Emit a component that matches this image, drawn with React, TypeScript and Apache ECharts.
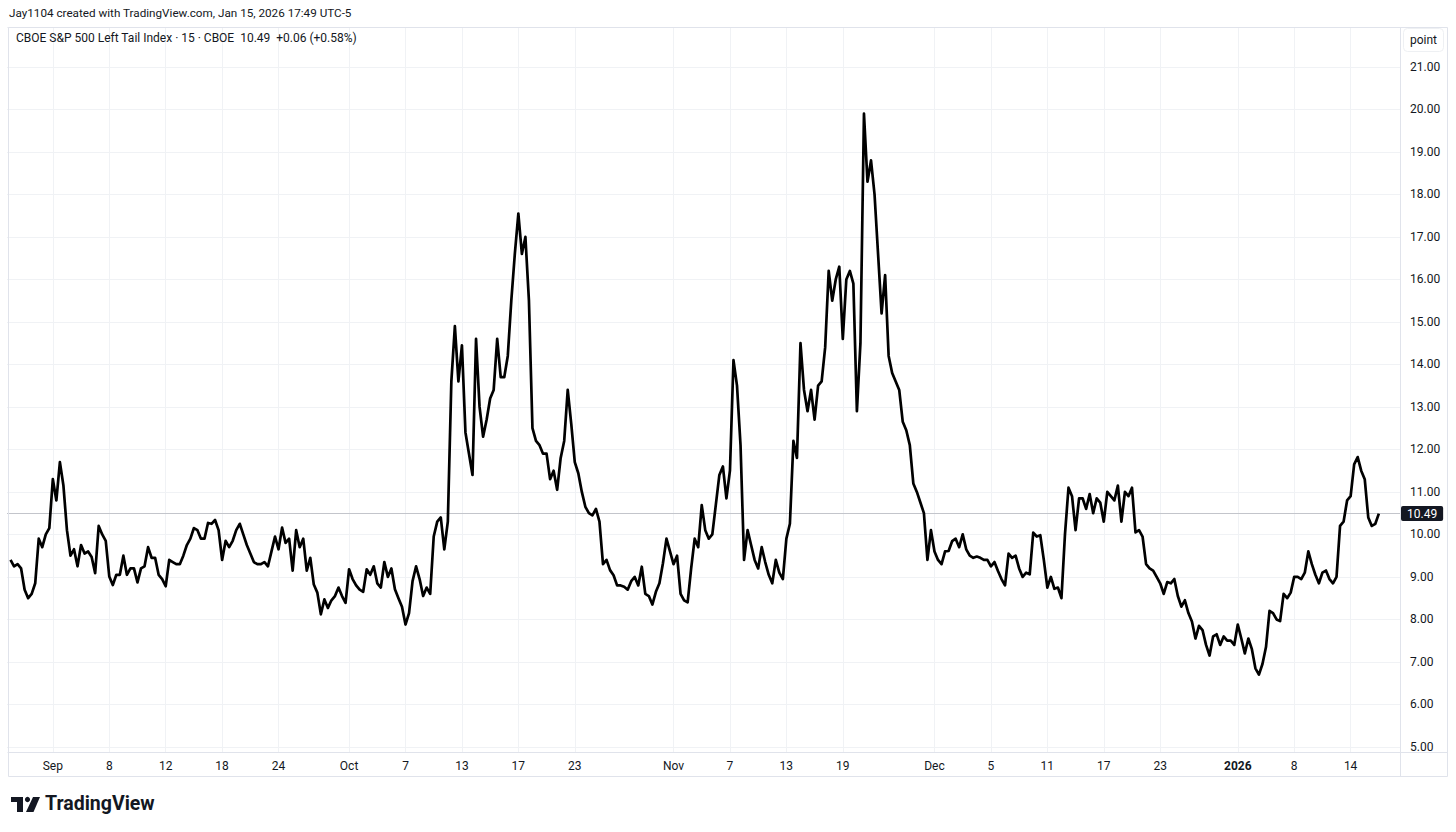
import React, { useEffect, useRef } from 'react';
import * as echarts from 'echarts';

// ---- data (15-min CBOE S&P 500 Left Tail Index, sampled ~4 points per session) ----
const augDays = ['Aug 27', 'Aug 28', 'Aug 29'];
const augValues = [
  [9.40, 9.25, 9.30, 9.20], [8.70, 8.50, 8.60, 8.85], [9.90, 9.70, 10.00, 10.15],
];
const sepDays = ['Sep 2', 'Sep 3', 'Sep 4', 'Sep 5', 'Sep 8', 'Sep 9', 'Sep 10', 'Sep 11', 'Sep 12', 'Sep 15', 'Sep 16', 'Sep 17', 'Sep 18', 'Sep 19', 'Sep 22', 'Sep 23', 'Sep 24', 'Sep 25', 'Sep 26', 'Sep 29', 'Sep 30'];
const sepValues = [
  [11.30, 10.80, 11.70, 11.15], [10.10, 9.50, 9.65, 9.25], [9.75, 9.55, 9.60, 9.47], [9.09, 10.20, 10.00, 9.85],
  [9.01, 8.81, 9.05, 9.05], [9.50, 9.05, 9.20, 9.20], [8.87, 9.20, 9.25, 9.70], [9.45, 9.45, 9.05, 8.95],
  [8.78, 9.40, 9.35, 9.30], [9.30, 9.50, 9.75, 9.90], [10.15, 10.10, 9.90, 9.90], [10.27, 10.25, 10.34, 10.10],
  [9.40, 9.85, 9.70, 9.85], [10.10, 10.25, 10.00, 9.75], [9.55, 9.35, 9.30, 9.30], [9.35, 9.25, 9.60, 9.95],
  [9.65, 10.16, 9.80, 9.90], [9.15, 10.10, 9.70, 9.90], [9.15, 9.45, 8.82, 8.63], [8.12, 8.47, 8.27, 8.45],
  [8.55, 8.75, 8.55, 8.39],
];
const octDays = ['Oct 1', 'Oct 2', 'Oct 3', 'Oct 6', 'Oct 7', 'Oct 8', 'Oct 9', 'Oct 10', 'Oct 13', 'Oct 14', 'Oct 15', 'Oct 16', 'Oct 17', 'Oct 20', 'Oct 21', 'Oct 22', 'Oct 23', 'Oct 24', 'Oct 27', 'Oct 28', 'Oct 29', 'Oct 30', 'Oct 31'];
const octValues = [
  [9.18, 8.95, 8.80, 8.70], [8.65, 9.18, 9.05, 9.25], [8.85, 8.75, 9.35, 9.00], [9.20, 8.71, 8.50, 8.30],
  [7.88, 8.15, 8.90, 9.25], [8.95, 8.55, 8.75, 8.60], [9.95, 10.30, 10.40, 9.65], [10.30, 13.60, 14.90, 13.60],
  [14.45, 12.40, 11.90, 11.40], [14.60, 13.00, 12.30, 12.70], [13.20, 13.40, 14.60, 13.70], [13.70, 14.20, 15.50, 16.60],
  [17.55, 16.60, 17.00, 15.50], [12.50, 12.20, 12.10, 11.90], [11.90, 11.30, 11.50, 11.05], [11.80, 12.20, 13.40, 12.60],
  [11.70, 11.44, 11.00, 10.65], [10.50, 10.45, 10.60, 10.30], [9.30, 9.40, 9.16, 9.04], [8.80, 8.80, 8.77, 8.70],
  [8.90, 9.00, 8.80, 9.24], [8.60, 8.55, 8.35, 8.65], [8.85, 9.32, 9.90, 9.60],
];
const novDays = ['Nov 3', 'Nov 4', 'Nov 5', 'Nov 6', 'Nov 7', 'Nov 10', 'Nov 11', 'Nov 12', 'Nov 13', 'Nov 14', 'Nov 17', 'Nov 18', 'Nov 19', 'Nov 20', 'Nov 21', 'Nov 24', 'Nov 25', 'Nov 26', 'Nov 28'];
const novValues = [
  [9.30, 9.50, 8.60, 8.45], [8.40, 9.20, 9.90, 9.70], [10.69, 10.10, 9.90, 10.00], [10.70, 11.40, 11.60, 10.85],
  [11.50, 14.10, 13.50, 12.10], [9.40, 10.10, 9.75, 9.40], [9.20, 9.70, 9.35, 9.05], [8.85, 9.40, 9.10, 8.95],
  [9.90, 10.25, 12.20, 11.80], [14.50, 13.40, 12.90, 13.40], [12.70, 13.50, 13.60, 14.40], [16.20, 15.50, 16.00, 16.30],
  [14.60, 16.00, 16.20, 15.90], [12.90, 14.50, 19.90, 18.30], [18.80, 18.00, 16.60, 15.20], [16.10, 14.20, 13.80, 13.60],
  [13.40, 12.65, 12.45, 12.10], [11.20, 11.00, 10.75, 10.50], [9.40, 10.10],
];
const decDays = ['Dec 1', 'Dec 2', 'Dec 3', 'Dec 4', 'Dec 5', 'Dec 8', 'Dec 9', 'Dec 10', 'Dec 11', 'Dec 12', 'Dec 15', 'Dec 16', 'Dec 17', 'Dec 18', 'Dec 19', 'Dec 22', 'Dec 23', 'Dec 24', 'Dec 26', 'Dec 29', 'Dec 30', 'Dec 31'];
const decValues = [
  [9.60, 9.40, 9.30, 9.60], [9.61, 9.84, 9.90, 9.70], [10.00, 9.65, 9.50, 9.45], [9.48, 9.45, 9.40, 9.40],
  [9.25, 9.35, 9.14, 8.95], [8.80, 9.55, 9.45, 9.50], [9.20, 9.00, 9.10, 9.06], [10.04, 9.95, 9.98, 9.40],
  [8.75, 9.00, 8.72, 8.75], [8.50, 10.00, 11.10, 10.90], [10.10, 10.85, 10.85, 10.60], [10.95, 10.50, 10.85, 10.75],
  [10.30, 11.00, 10.90, 10.80], [11.15, 10.30, 11.00, 10.90], [11.10, 10.05, 10.10, 9.95], [9.30, 9.20, 9.15, 9.00],
  [8.85, 8.60, 8.88, 8.85], [8.95, 8.55], [8.30, 8.45, 8.15, 7.95], [7.55, 7.85, 7.75, 7.40],
  [7.15, 7.60, 7.65, 7.40], [7.60, 7.50, 7.50, 7.40],
];
const janDays = ['Jan 2', 'Jan 5', 'Jan 6', 'Jan 7', 'Jan 8', 'Jan 9', 'Jan 12', 'Jan 13', 'Jan 14', 'Jan 15'];
const janValues = [
  [7.88, 7.55, 7.20, 7.55], [7.30, 6.85, 6.70, 6.95], [7.35, 8.20, 8.15, 8.00], [7.96, 8.60, 8.50, 8.63],
  [9.00, 9.00, 8.95, 9.10], [9.60, 9.30, 9.05, 8.85], [9.10, 9.15, 8.95, 8.85], [9.00, 10.20, 10.30, 10.80],
  [10.90, 11.65, 11.82, 11.50], [11.30, 10.40, 10.20, 10.25, 10.49],
];

const tickDays = ['Sep 2', 'Sep 8', 'Sep 12', 'Sep 18', 'Sep 24', 'Oct 1', 'Oct 7', 'Oct 13', 'Oct 17', 'Oct 23', 'Nov 3', 'Nov 7', 'Nov 13', 'Nov 19', 'Dec 1', 'Dec 5', 'Dec 11', 'Dec 17', 'Dec 23', 'Jan 2', 'Jan 8', 'Jan 14'];
const tickLabels = ['Sep', '8', '12', '18', '24', 'Oct', '7', '13', '17', '23', 'Nov', '7', '13', '19', 'Dec', '5', '11', '17', '23', '2026', '8', '14'];
const boldTicks = ['2026'];

const titleText = 'CBOE S&P 500 Left Tail Index · 15 · CBOE  10.49  +0.06 (+0.58%)';
const headerText = 'Jay1104 created with TradingView.com, Jan 15, 2026 17:49 UTC-5';

const FONT = 'Roboto, "Noto Sans", "Liberation Sans", sans-serif';

export default function App() {
  const ref = useRef<HTMLDivElement>(null);

  useEffect(() => {
    if (!ref.current) return;
    const chart = echarts.init(ref.current, undefined, { renderer: 'svg' });

    const allDays = [...augDays, ...sepDays, ...octDays, ...novDays, ...decDays, ...janDays];
    const allValues = [...augValues, ...sepValues, ...octValues, ...novValues, ...decValues, ...janValues];

    const categories: string[] = ['pad-start'];
    const seriesData: (number | string)[] = ['-'];
    const dayStart: Record<string, number> = {};
    allDays.forEach((d, i) => {
      dayStart[d] = categories.length;
      allValues[i].forEach((v, j) => {
        categories.push(`${d} #${j + 1}`);
        seriesData.push(v);
      });
    });
    for (let k = 0; k < 6; k++) categories.push(`pad-end-${k}`);

    const labelAt: Record<number, string> = {};
    tickDays.forEach((d, i) => {
      labelAt[dayStart[d]] = tickLabels[i];
    });

    const lastDay = janValues[janValues.length - 1];
    const lastValue = lastDay[lastDay.length - 1];

    const gridColor = '#f0f2f5';
    const frameColor = '#e0e3eb';

    chart.setOption({
      animation: false,
      backgroundColor: '#ffffff',
      grid: { left: 7, right: 56, top: 27, bottom: 80, containLabel: false },
      xAxis: {
        type: 'category',
        data: categories,
        boundaryGap: false,
        axisLine: { show: false },
        axisTick: { show: false },
        axisLabel: {
          interval: (index: number) => labelAt[index] !== undefined,
          formatter: (_v: string, index: number) => {
            const t = labelAt[index] ?? '';
            return boldTicks.includes(t) ? `{b|${t}}` : t;
          },
          color: '#131722',
          fontSize: 12,
          fontFamily: FONT,
          margin: 8,
          rich: { b: { fontWeight: 'bold', fontSize: 12, fontFamily: FONT, color: '#131722' } },
        },
        splitLine: {
          show: true,
          interval: (index: number) => labelAt[index] !== undefined,
          lineStyle: { color: gridColor, width: 1 },
        },
      },
      yAxis: {
        type: 'value',
        position: 'right',
        min: 4.88,
        max: 21.94,
        splitNumber: 17,
        minInterval: 1,
        maxInterval: 1,
        axisLine: { show: false },
        axisTick: { show: false },
        axisLabel: {
          formatter: (v: number) => v.toFixed(2),
          showMinLabel: false,
          showMaxLabel: false,
          color: '#131722',
          fontSize: 12,
          fontFamily: FONT,
          margin: 10,
        },
        splitLine: { show: true, lineStyle: { color: gridColor, width: 1 } },
      },
      series: [
        {
          type: 'line',
          data: seriesData,
          showSymbol: false,
          connectNulls: false,
          lineStyle: { color: '#000000', width: 2.7, join: 'round' },
          itemStyle: { color: '#000000' },
          z: 5,
          markLine: {
            silent: true,
            symbol: ['none', 'none'],
            lineStyle: { color: '#c3c5cb', type: 'solid', width: 1 },
            label: {
              show: true,
              position: 'end',
              formatter: lastValue.toFixed(2),
              backgroundColor: '#131722',
              color: '#ffffff',
              fontSize: 12,
              fontFamily: FONT,
              padding: [2, 6, 1, 6],
              borderRadius: 2,
              distance: 1,
            },
            data: [{ yAxis: lastValue }],
          },
        },
      ],
      graphic: [
        {
          type: 'text',
          left: 9,
          top: 7,
          style: { text: headerText, fontSize: 11.7, fontFamily: FONT, fill: '#131722' },
        },
        {
          type: 'rect',
          shape: { x: 8.5, y: 27.5, width: 1439, height: 749 },
          style: { fill: 'none', stroke: frameColor, lineWidth: 1 },
          z: 10,
        },
        {
          type: 'line',
          shape: { x1: 8, y1: 752.5, x2: 1448, y2: 752.5 },
          style: { stroke: frameColor, lineWidth: 1 },
          z: 10,
        },
        {
          type: 'line',
          shape: { x1: 1400.5, y1: 27, x2: 1400.5, y2: 777 },
          style: { stroke: frameColor, lineWidth: 1 },
          z: 10,
        },
        {
          type: 'text',
          left: 16,
          top: 32,
          style: { text: titleText, fontSize: 12, fontFamily: FONT, fill: '#131722' },
          z: 10,
        },
        {
          type: 'rect',
          shape: { x: 1403.5, y: 28.5, width: 40, height: 23, r: 4 },
          style: { fill: '#ffffff', stroke: '#eef0f3', lineWidth: 1 },
          z: 10,
        },
        {
          type: 'text',
          x: 1423.5,
          y: 40,
          style: { text: 'point', fontSize: 12, fontFamily: FONT, fill: '#131722', align: 'center', verticalAlign: 'middle' },
          z: 11,
        },
        // TradingView logo
        {
          type: 'group',
          z: 10,
          children: [
            { type: 'rect', shape: { x: 11, y: 797, width: 12, height: 5 }, style: { fill: '#131722' } },
            { type: 'rect', shape: { x: 17, y: 797, width: 6, height: 15 }, style: { fill: '#131722' } },
            { type: 'circle', shape: { cx: 27.5, cy: 799.5, r: 2.6 }, style: { fill: '#131722' } },
            { type: 'polygon', shape: { points: [[33, 797], [40, 797], [33.5, 812], [26, 812]] }, style: { fill: '#131722' } },
          ],
        },
        {
          type: 'text',
          left: 45,
          top: 793,
          style: { text: 'TradingView', fontSize: 19.5, fontWeight: 'bold', fontFamily: FONT, fill: '#131722' },
          z: 10,
        },
      ],
    });

    return () => {
      chart.dispose();
    };
  }, []);

  return (
    <div
      ref={ref}
      style={{ position: 'fixed', left: 0, top: 0, width: 1456, height: 832, background: '#ffffff' }}
    />
  );
}
